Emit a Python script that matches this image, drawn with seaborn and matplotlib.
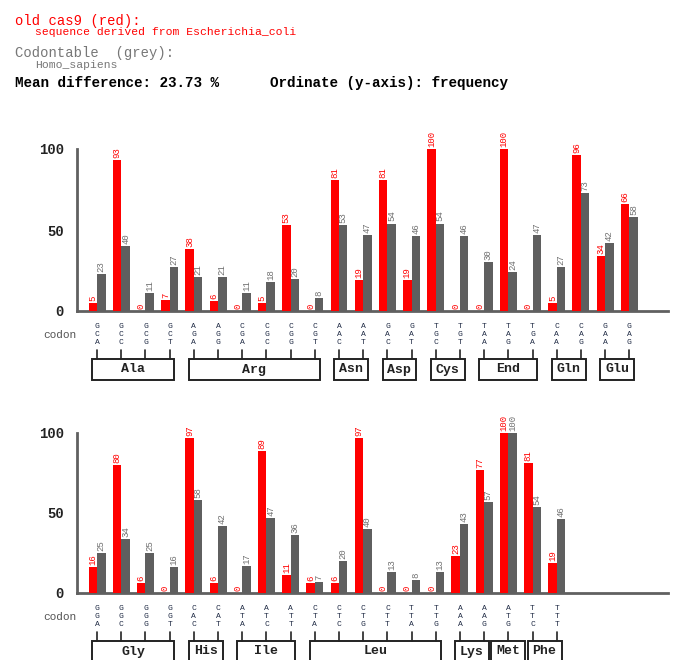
import matplotlib
matplotlib.use("Agg")
import numpy as np
import pandas as pd
import matplotlib.pyplot as plt
import seaborn as sns
from matplotlib.patches import Rectangle

# ---------------- data ----------------
codons_top = ['GCA', 'GCC', 'GCG', 'GCT', 'AGA', 'AGG', 'CGA', 'CGC', 'CGG', 'CGT',
              'AAC', 'AAT', 'GAC', 'GAT', 'TGC', 'TGT', 'TAA', 'TAG', 'TGA',
              'CAA', 'CAG', 'GAA', 'GAG']
amino_top = ['Ala', 'Arg', 'Asn', 'Asp', 'Cys', 'End', 'Gln', 'Glu']
ncod_top = [4, 6, 2, 2, 2, 3, 2, 2]
red_top = [5, 93, 0, 7, 38, 6, 0, 5, 53, 0, 81, 19, 81, 19, 100, 0, 0, 100, 0, 5, 96, 34, 66]
grey_top = [23, 40, 11, 27, 21, 21, 11, 18, 20, 8, 53, 47, 54, 46, 54, 46, 30, 24, 47, 27, 73, 42, 58]

codons_bot = ['GGA', 'GGC', 'GGG', 'GGT', 'CAC', 'CAT', 'ATA', 'ATC', 'ATT',
              'CTA', 'CTC', 'CTG', 'CTT', 'TTA', 'TTG', 'AAA', 'AAG', 'ATG', 'TTC', 'TTT']
amino_bot = ['Gly', 'His', 'Ile', 'Leu', 'Lys', 'Met', 'Phe']
ncod_bot = [4, 2, 3, 6, 2, 1, 2]
red_bot = [16, 80, 6, 0, 97, 6, 0, 89, 11, 6, 6, 97, 0, 0, 0, 23, 77, 100, 81, 19]
grey_bot = [25, 34, 25, 16, 58, 42, 17, 47, 36, 7, 20, 40, 13, 8, 13, 43, 57, 100, 54, 46]

RED = '#ff0000'
GREY = '#5f5f5f'
AXC = '#606060'

sns.set_style("white")
plt.rcParams['font.family'] = ['Liberation Mono', 'DejaVu Sans Mono']

W, H = 692, 660
fig = plt.figure(figsize=(W / 100, H / 100), dpi=100)

# header text
fig.text(15 / W, 1 - 21 / H, "old cas9 (red):", color=RED, fontsize=10, va='center')
fig.text(35 / W, 1 - 32 / H, "sequence derived from Escherichia_coli", color=RED, fontsize=8.2, va='center')
fig.text(15 / W, 1 - 53 / H, "Codontable  (grey):", color='#777777', fontsize=10, va='center')
fig.text(35 / W, 1 - 65 / H, "Homo_sapiens", color='#777777', fontsize=8.2, va='center')
fig.text(15 / W, 1 - 83 / H, "Mean difference: 23.73 %      Ordinate (y-axis): frequency",
         color='black', fontsize=10.3, va='center', fontweight='bold')


def panel(y0, y100, codons, aminos, ncod, red, grey):
    left, right = 77, 668
    ax = fig.add_axes([left / W, (H - y0) / H, (right - left) / W, (y0 - y100) / H])
    ax_h = y0 - y100

    df = pd.DataFrame({
        'codon': codons * 2,
        'value': red + grey,
        'series': ['red'] * len(codons) + ['grey'] * len(codons),
    })
    sns.barplot(data=df, x='codon', y='value', hue='series', order=codons,
                hue_order=['red', 'grey'], palette={'red': RED, 'grey': GREY},
                width=0.7, saturation=1, legend=False, ax=ax, linewidth=0)
    for p in ax.patches:
        p.set_zorder(3)

    # value labels on top of bars
    for cont, vals, col in zip(ax.containers, [red, grey], [RED, '#707070']):
        ax.bar_label(cont, labels=[str(v) for v in vals], rotation=90, padding=1.5,
                     fontsize=6.5, color=col)

    ax.set_xlim(-0.83, 23.6)
    ax.set_ylim(0, 100)
    ax.set_xlabel('')
    ax.set_ylabel('')
    sns.despine(ax=ax)
    for s in ['left', 'bottom']:
        ax.spines[s].set_color(AXC)
        ax.spines[s].set_linewidth(2)
    ax.spines['left'].set_bounds(0, 100)
    ax.set_yticks([0, 50, 100])
    ax.set_yticklabels(['0', '50', '100'], fontsize=10, fontweight='bold', color='#222222')
    ax.tick_params(axis='y', length=6.5, width=1.6, color=AXC, pad=3)
    ax.set_xticks(range(len(codons)))
    ax.set_xticklabels([''] * len(codons))
    ax.tick_params(axis='x', length=4, width=1.2, color='#222222', direction='out')

    def fy(px):
        return -px / ax_h

    tr = ax.get_xaxis_transform()
    # codon letters stacked vertically
    for i, c in enumerate(codons):
        for k, ch in enumerate(c):
            ax.text(i, fy(15 + 8.5 * k), ch, transform=tr,
                    ha='center', va='center', fontsize=5.8, color='#1f2a44', clip_on=False)
        ax.plot([i, i], [fy(39), fy(48)], transform=tr,
                color='#222222', lw=1.2, clip_on=False)

    # amino acid boxes
    start = 0
    for aa, n in zip(aminos, ncod):
        half = max((n - 1) / 2 + 0.2, 0.7)
        mid = start + (n - 1) / 2
        x0, x1 = mid - half, mid + half
        ax.add_patch(Rectangle((x0, fy(69)), x1 - x0, fy(48) - fy(69),
                               transform=tr, fill=False,
                               edgecolor='#222222', lw=1.4, clip_on=False))
        ax.text(mid, fy(58.5), aa, transform=tr,
                ha='center', va='center', fontsize=9.5, fontweight='bold',
                color='#222222', clip_on=False)
        start += n

    fig.text(60 / W, (H - y0 - 24) / H, 'codon', ha='center', va='center',
             fontsize=8, color='#555555')
    return ax


panel(311, 149, codons_top, amino_top, ncod_top, red_top, grey_top)
panel(593, 433, codons_bot, amino_bot, ncod_bot, red_bot, grey_bot)

fig.savefig('out.png', dpi=100)
